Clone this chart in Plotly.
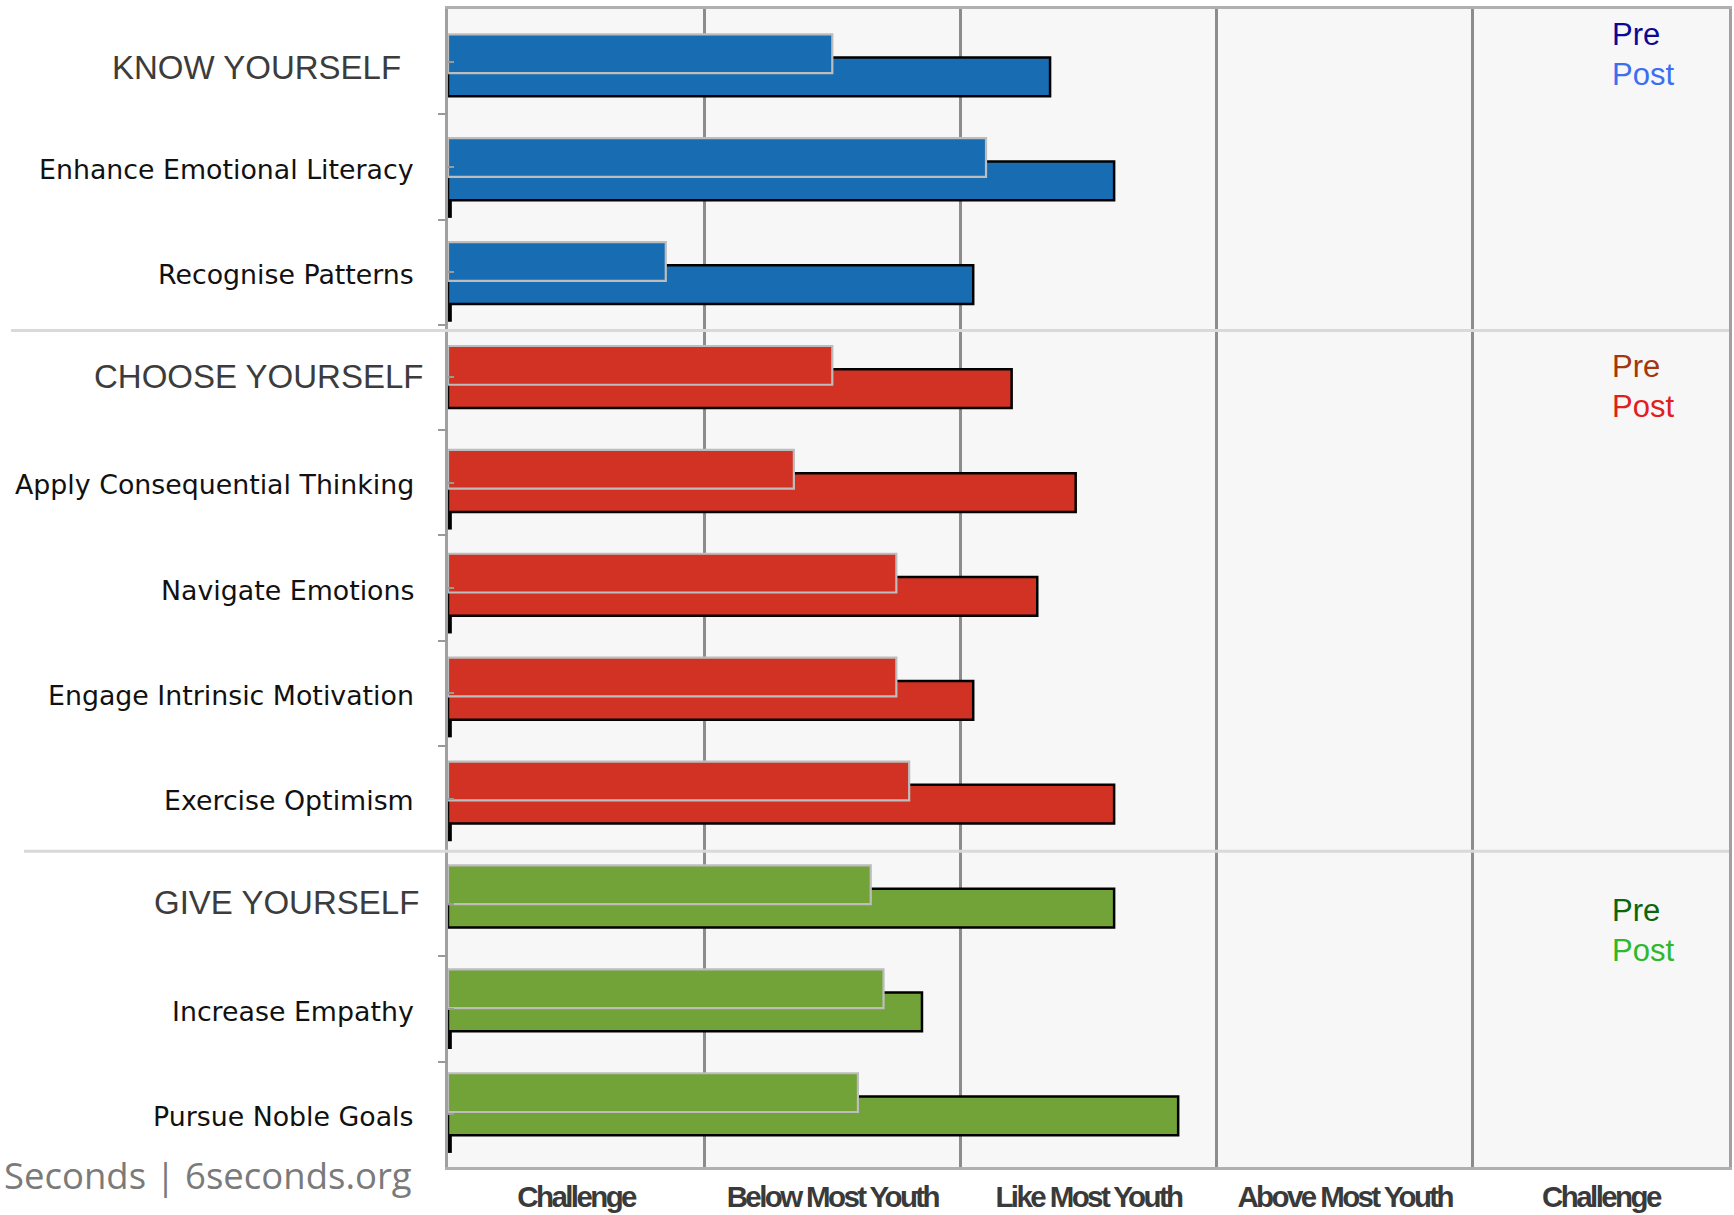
import plotly.graph_objects as go

# ---------------- data ----------------
rows = ["KNOW YOURSELF", "Enhance Emotional Literacy", "Recognise Patterns",
        "CHOOSE YOURSELF", "Apply Consequential Thinking", "Navigate Emotions",
        "Engage Intrinsic Motivation", "Exercise Optimism",
        "GIVE YOURSELF", "Increase Empathy", "Pursue Noble Goals"]
is_header = [True, False, False, True, False, False, False, False, True, False, False]
section = ["know", "know", "know", "choose", "choose", "choose", "choose", "choose",
           "give", "give", "give"]
pre_scores = [30, 42, 17, 30, 27, 35, 35, 36, 33, 34, 32]
post_scores = [47, 52, 41, 44, 49, 46, 41, 52, 52, 37, 57]
stub_scores = [None, 0.3, 0.3, None, 0.3, 0.3, 0.3, 0.3, None, 0.3, 0.3]
band_labels = ["Challenge", "Below Most Youth", "Like Most Youth", "Above Most Youth", "Challenge"]
band_centers = [10, 30, 50, 70, 90]
band_edges = [20, 40, 60, 80]

# ---------------- styles ----------------
bar_color = {"know": "#176cb2", "choose": "#d13223", "give": "#72a338"}
pre_text_color = {"know": "#0a0a96", "choose": "#a2360c", "give": "#0b650b"}
post_text_color = {"know": "#3b6ff0", "choose": "#e0201c", "give": "#2db82d"}
header_shift = {"KNOW YOURSELF": (-45, -5.5), "CHOOSE YOURSELF": (-23, 1), "GIVE YOURSELF": (-27, 1)}
legend_pos = {"know": (-0.26, 0.12), "choose": (2.90, 3.28), "give": (8.06, 8.44)}

ypos = list(range(len(rows)))
colors = [bar_color[s] for s in section]
BW = 0.373

fig = go.Figure()
fig.add_trace(go.Bar(
    y=ypos, x=post_scores, orientation="h", name="Post",
    marker=dict(color=colors, line=dict(color="#000000", width=2.5)),
    width=BW, offset=-0.0745, hoverinfo="skip"))
fig.add_trace(go.Bar(
    y=ypos, x=pre_scores, orientation="h", name="Pre",
    marker=dict(color=colors, line=dict(color="#bdbdbd", width=2.2)),
    width=BW, offset=-0.2985, hoverinfo="skip"))
fig.add_trace(go.Bar(
    y=ypos, x=stub_scores, orientation="h", name="stub",
    marker=dict(color="#000000", line=dict(width=0)),
    width=0.17, offset=0.2985, hoverinfo="skip"))

annotations = []
for i, (label, hdr) in enumerate(zip(rows, is_header)):
    if hdr:
        xs, ys = header_shift[label]
        annotations.append(dict(
            x=0, xref="paper", y=i, yref="y2", text=label, showarrow=False,
            xanchor="right", yanchor="middle", xshift=xs, yshift=ys,
            font=dict(family="Liberation Sans, Arial, sans-serif", size=33, color="#3c3c3c")))
    else:
        annotations.append(dict(
            x=0, xref="paper", y=i, yref="y2", text=label, showarrow=False,
            xanchor="right", yanchor="middle", xshift=-32, yshift=-2.2,
            font=dict(family="DejaVu Sans, sans-serif", size=26.8, color="#111111")))

for sec, (yp, yq) in legend_pos.items():
    annotations.append(dict(
        x=0.9068, xref="paper", y=yp, yref="y2", text="Pre", showarrow=False,
        xanchor="left", yanchor="middle",
        font=dict(family="Liberation Sans, Arial, sans-serif", size=31, color=pre_text_color[sec])))
    annotations.append(dict(
        x=0.9068, xref="paper", y=yq, yref="y2", text="Post", showarrow=False,
        xanchor="left", yanchor="middle",
        font=dict(family="Liberation Sans, Arial, sans-serif", size=31, color=post_text_color[sec])))

annotations.append(dict(
    x=(2 - 448) / 1281, xref="paper", y=(1167 - 1175) / 1158, yref="paper",
    text="Seconds | 6seconds.org", showarrow=False, xanchor="left", yanchor="middle",
    font=dict(family="Open Sans, sans-serif", size=36.5, color="#7a7a7a")))

shapes = []
for yv, x0 in [(2.555, (11 - 448) / 1281), (7.5, (24 - 448) / 1281)]:
    shapes.append(dict(type="line", xref="paper", yref="y2", x0=x0, x1=1, y0=yv, y1=yv,
                       line=dict(color="#d9d9d9", width=3), layer="above"))

tick_text = ["<span style='letter-spacing:-2.6px'>%s</span>" % t for t in band_labels]

fig.update_layout(
    width=1734, height=1215,
    margin=dict(l=448, r=5, t=9, b=48, autoexpand=False),
    paper_bgcolor="#ffffff", plot_bgcolor="#f7f7f7",
    barmode="overlay", showlegend=False,
    annotations=annotations, shapes=shapes,
    xaxis=dict(
        range=[0, 100], tickmode="array", tickvals=band_centers, ticktext=tick_text,
        showgrid=False, zeroline=False, ticks="", ticklabelstandoff=2, automargin=False,
        tickfont=dict(family="Liberation Sans, Arial, sans-serif",
                      size=29.5, color="#3a3a3a", weight="bold"),
        showline=True, linecolor="#b0b0b0", linewidth=3, mirror=True,
        minor=dict(tickmode="array", tickvals=band_edges, showgrid=True,
                   gridcolor="#8c8c8c", gridwidth=3, ticks=""),
    ),
    yaxis=dict(
        range=[10.604, -0.542], showticklabels=False, ticks="",
        showgrid=False, zeroline=False, automargin=False,
        showline=True, linecolor="#a0a0a0", linewidth=3, mirror=True,
    ),
    yaxis2=dict(
        overlaying="y", side="left", range=[10.5, -0.5],
        tickmode="array", tickvals=ypos, showticklabels=False,
        showgrid=False, zeroline=False, ticks="inside", ticklen=6, tickwidth=2,
        tickcolor="#9a9a9a", automargin=False, showline=False,
        minor=dict(tickmode="array", tickvals=[k + 0.5 for k in ypos], ticks="outside",
                   ticklen=9, tickwidth=2, tickcolor="#9a9a9a", showgrid=False),
    ),
)

fig.write_html("out.html", config={"displayModeBar": False},
               post_script="document.body.style.margin='0';document.body.style.overflow='hidden';")
